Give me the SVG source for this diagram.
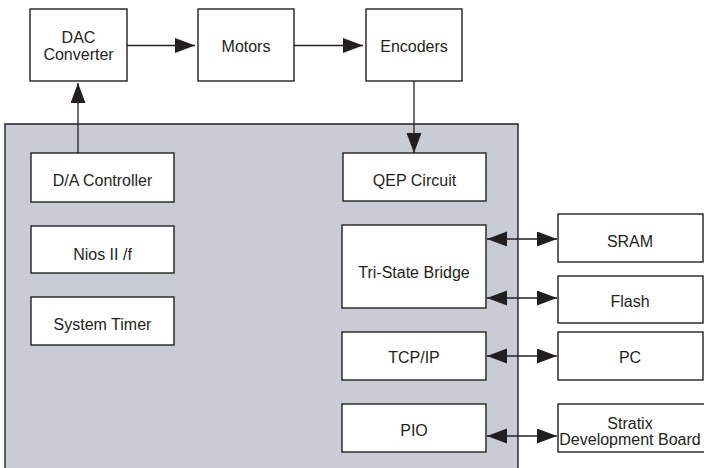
<svg xmlns="http://www.w3.org/2000/svg" width="704" height="468" viewBox="0 0 704 468">
<style>
  .box { fill: #ffffff; stroke: #231f20; stroke-width: 1.4; }
  .panel { fill: #c9ccd4; stroke: #231f20; stroke-width: 1.4; }
  .lbl { font-family: "Liberation Sans", Arial, sans-serif; font-size: 16px; fill: #231f20; text-anchor: middle; }
  .conn { stroke: #231f20; stroke-width: 1.3; fill: none; }
</style>
<defs>
  <marker id="ah" markerUnits="userSpaceOnUse" markerWidth="20" markerHeight="16" refX="20" refY="7.5" orient="auto-start-reverse">
    <path d="M0,0 L20,7.5 L0,15 Z" fill="#231f20"/>
  </marker>
</defs>
<rect width="704" height="468" fill="#ffffff"/>
<g id="fpga-panel">
  <path class="panel" d="M5,470 L5,124 L518,124 L518,470"/>
</g>
<g id="dac">
  <rect class="box" x="30" y="9" width="97" height="72"/>
  <text class="lbl" x="78.5" y="43">DAC</text>
  <text class="lbl" x="78.5" y="60">Converter</text>
</g>
<g id="motors">
  <rect class="box" x="198" y="9" width="96" height="72"/>
  <text class="lbl" x="246" y="52">Motors</text>
</g>
<g id="encoders">
  <rect class="box" x="366" y="9" width="96" height="72"/>
  <text class="lbl" x="414" y="52">Encoders</text>
</g>
<g id="da-controller">
  <rect class="box" x="31" y="153" width="143" height="49"/>
  <text class="lbl" x="102.5" y="186">D/A Controller</text>
</g>
<g id="nios">
  <rect class="box" x="31" y="226" width="143" height="47"/>
  <text class="lbl" x="102.5" y="260">Nios II /f</text>
</g>
<g id="system-timer">
  <rect class="box" x="31" y="297" width="143" height="48"/>
  <text class="lbl" x="102.5" y="330">System Timer</text>
</g>
<g id="qep">
  <rect class="box" x="343" y="153" width="143" height="48"/>
  <text class="lbl" x="414.5" y="186">QEP Circuit</text>
</g>
<g id="tristate">
  <rect class="box" x="342" y="225" width="144" height="83"/>
  <text class="lbl" x="414" y="278">Tri-State Bridge</text>
</g>
<g id="tcpip">
  <rect class="box" x="342" y="332" width="144" height="48"/>
  <text class="lbl" x="414" y="363">TCP/IP</text>
</g>
<g id="pio">
  <rect class="box" x="342" y="404" width="144" height="48"/>
  <text class="lbl" x="414" y="436">PIO</text>
</g>
<g id="sram">
  <rect class="box" x="558" y="214" width="145" height="48"/>
  <text class="lbl" x="630" y="247">SRAM</text>
</g>
<g id="flash">
  <rect class="box" x="558" y="276" width="145" height="47"/>
  <text class="lbl" x="630" y="307">Flash</text>
</g>
<g id="pc">
  <rect class="box" x="558" y="332" width="145" height="48"/>
  <text class="lbl" x="630" y="363">PC</text>
</g>
<g id="stratix">
  <rect class="box" x="558" y="404" width="147" height="48"/>
  <text class="lbl" x="630" y="429">Stratix</text>
  <text class="lbl" x="630" y="445">Development Board</text>
</g>
<g id="connectors">
  <line class="conn" x1="127" y1="45.5" x2="195" y2="45.5" marker-end="url(#ah)"/>
  <line class="conn" x1="294" y1="45.5" x2="363" y2="45.5" marker-end="url(#ah)"/>
  <line class="conn" x1="414" y1="81" x2="414" y2="153" marker-end="url(#ah)"/>
  <line class="conn" x1="78" y1="153" x2="78" y2="83" marker-end="url(#ah)"/>
  <line class="conn" x1="487" y1="239" x2="557" y2="239" marker-start="url(#ah)" marker-end="url(#ah)"/>
  <line class="conn" x1="487" y1="298" x2="557" y2="298" marker-start="url(#ah)" marker-end="url(#ah)"/>
  <line class="conn" x1="487" y1="356" x2="557" y2="356" marker-start="url(#ah)" marker-end="url(#ah)"/>
  <line class="conn" x1="487" y1="436" x2="557" y2="436" marker-start="url(#ah)" marker-end="url(#ah)"/>
</g>
</svg>
